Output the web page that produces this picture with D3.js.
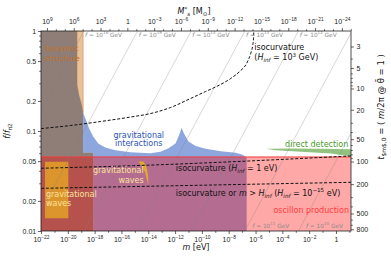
<!DOCTYPE html>
<html>
<head>
<meta charset="utf-8">
<script src="https://cdn.jsdelivr.net/npm/d3@7"></script>
<style>
body { margin: 0; background: #fff; }
svg { font-family: "DejaVu Sans", sans-serif; }
text { white-space: pre; }
</style>
</head>
<body>
<svg id="chart" width="391" height="262"></svg>
<script>
// ---- data (x = log10 of m in eV, y = f / f_pi2) ----
var mTickExp = [-22, -20, -18, -16, -14, -12, -10, -8, -6, -4, -2, 0];
var mMinorExp = [-21, -19, -17, -15, -13, -11, -9, -7, -5, -3, -1, 1];
var msTickExp = [9, 6, 3, 0, -3, -6, -9, -12, -15, -18, -21, -24];
var msMinorExp = [8, 7, 5, 4, 2, 1, -1, -2, -4, -5, -7, -8, -10, -11, -13, -14, -16, -17, -19, -20, -22, -23, -25];
var fTicks = [0.01, 0.02, 0.05, 0.1, 0.2, 0.5, 1];
var fTickLabels = ["0.01", "0.02", "0.05", "0.1", "0.2", "0.5", "1"];
var fMinor = [0.03, 0.04, 0.06, 0.07, 0.08, 0.09, 0.3, 0.4, 0.6, 0.7, 0.8, 0.9];
var tTicks = [3, 5, 10, 20, 50, 100, 200, 500, 800];
var tTickF = [0.70, 0.427, 0.266, 0.163, 0.0828, 0.0495, 0.0294, 0.01496, 0.0104];
var tMinor = [4, 6, 7, 8, 9, 30, 40, 60, 70, 80, 90, 300, 400, 600, 700];

var baryonGray = [[-22, 1], [-19.31, 1], [-19.31, 0.291], [-19.16, 0.226], [-18.97, 0.184], [-18.86, 0.153],
  [-18.86, 0.061], [-18.11, 0.061], [-18.11, 0.01], [-22, 0.01]];
var baryonTan = [[-19.31, 1], [-18.86, 1], [-18.86, 0.153], [-18.97, 0.184], [-19.16, 0.226], [-19.31, 0.291]];
var gravInteractions = [[-18.86, 0.153], [-18.63, 0.127], [-18.41, 0.106], [-18.11, 0.0879], [-17.73, 0.0748],
  [-17.21, 0.0682], [-16.46, 0.0643], [-15.34, 0.0614], [-13.84, 0.0600], [-13.09, 0.0621], [-12.49, 0.0674],
  [-11.97, 0.0748], [-11.71, 0.0899], [-11.52, 0.107], [-11.30, 0.092], [-11.00, 0.0783], [-10.47, 0.0706],
  [-9.72, 0.0666], [-8.60, 0.0629], [-7.48, 0.0607], [-6.96, 0.058], [-6.66, 0.0541], [-6.66, 0.01],
  [-18.11, 0.01], [-18.11, 0.061], [-18.86, 0.061]];
var oscillon = [[-22, 0.055], [1.3, 0.055], [1.3, 0.01], [-22, 0.01]];
var gwPulsar = [[-21.70, 0.0493], [-19.96, 0.0493], [-19.96, 0.0134], [-21.70, 0.0134]];
var gwSliver = [[-14.73, 0.0495], [-14.36, 0.0495], [-14.13, 0.0437], [-14.02, 0.0363], [-13.98, 0.0288],
  [-14.10, 0.0324], [-14.24, 0.0389], [-14.54, 0.0457]];
var directDetection = [[-5.23, 0.0666], [-3.36, 0.0669], [-1.12, 0.0666], [1.3, 0.0658], [1.3, 0.0552],
  [-0.37, 0.0594], [-2.61, 0.0621], [-4.49, 0.0643]];

var isoHigh = [[-22, 0.1057], [-19.83, 0.1133], [-17.58, 0.1243], [-15.34, 0.1378], [-13.84, 0.1494],
  [-12.34, 0.1717], [-10.85, 0.2113], [-9.72, 0.2484], [-8.98, 0.2756], [-7.85, 0.3354], [-7.10, 0.4034],
  [-6.66, 0.4743], [-6.36, 0.5973], [-6.21, 0.7186], [-6.15, 0.845], [-6.13, 1]];
var isoEv = [[-22, 0.0424], [-15.1, 0.045], [-7.7, 0.0493], [1.12, 0.0563]];
var isoLow = [[-22, 0.0267], [1.12, 0.0307]];

// lines of constant f: log10 m where each crosses f/f_pi2 = 1 and = 0.01
var fLineExp = [16, 15, 14, 13, 12, 11, 10];
var fLineTop = [-18.8, -14.8, -10.8, -6.8, -2.8, 1.2, 5.2];
var fLineBottom = [-26.8, -22.8, -18.8, -14.8, -10.8, -6.8, -2.8];

// ---- scales ----
var x = d3.scaleLog().domain([1e-22, Math.pow(10, 1.12)]).range([41, 351]);
var y = d3.scaleLog().domain([0.01, 1]).range([231, 31]);
var xs = d3.scaleLog().domain([Math.pow(10, 9.66), Math.pow(10, -25.02)]).range([41, 351]);
var yt = d3.scaleLog().domain(tTicks).range(tTickF.map(function (f) { return y(f); }));

var svg = d3.select("#chart");
svg.append("defs").append("clipPath").attr("id", "clip")
  .append("rect").attr("x", 41).attr("y", 31).attr("width", 310).attr("height", 200);

// rich text: ^{..} sup, _{..} sub, _(..) italic sub, $..$ italic
function parse(s) {
  var out = [];
  s.split(/(\^\{[^}]*\}|_\{[^}]*\}|_\([^)]*\)|\$[^$]*\$)/).forEach(function (p) {
    if (!p) return;
    if (p[0] === "^") out.push({t: p.slice(2, -1), k: "sup"});
    else if (p.slice(0, 2) === "_{") out.push({t: p.slice(2, -1), k: "sub"});
    else if (p.slice(0, 2) === "_(") out.push({t: p.slice(2, -1), k: "sub", i: true});
    else if (p[0] === "$") out.push({t: p.slice(1, -1), k: "", i: true});
    else out.push({t: p, k: ""});
  });
  return out;
}
function rich(t, s, fs) {
  var off = 0;
  parse(s).forEach(function (p) {
    var sp = t.append("tspan").text(p.t);
    var sh = p.k === "sup" ? -0.42 * fs : p.k === "sub" ? 0.25 * fs : 0;
    if (p.k) sp.attr("font-size", 0.7 * fs);
    if (p.i) sp.attr("font-style", "italic");
    if (sh !== off) { sp.attr("dy", sh - off); off = sh; }
  });
}
function label(g, xm, yf, s, fs, color, anchor) {
  var t = g.append("text").attr("x", x(Math.pow(10, xm))).attr("y", y(yf))
    .attr("font-size", fs).attr("fill", color).attr("text-anchor", anchor || "start");
  rich(t, s, fs);
  return t;
}

var path = d3.line()
  .x(function (d) { return x(Math.pow(10, d[0])); })
  .y(function (d) { return y(d[1]); });
var curve = d3.line()
  .x(function (d) { return x(Math.pow(10, d[0])); })
  .y(function (d) { return y(d[1]); })
  .curve(d3.curveMonotoneX);

var plot = svg.append("g").attr("clip-path", "url(#clip)");

// regions
plot.append("path").attr("d", path(baryonTan) + "Z").attr("fill", "#e8b886").attr("opacity", 0.85)
  .attr("stroke", "#d0803a").attr("stroke-width", 0.7);
plot.append("path").attr("d", path(baryonGray) + "Z").attr("fill", "#8f7d77");
plot.append("path").attr("d", path(gravInteractions) + "Z").attr("fill", "#3a66c4").attr("opacity", 0.58);
plot.append("path").attr("d", path(directDetection) + "Z").attr("fill", "#4a9a2a").attr("opacity", 0.6);
plot.append("path").attr("d", path(oscillon) + "Z").attr("fill", "#ff0000").attr("opacity", 0.34);
plot.append("line").attr("x1", x(1e-22)).attr("x2", 351).attr("y1", y(0.055)).attr("y2", y(0.055))
  .attr("stroke", "#f03c3c").attr("stroke-width", 1);
plot.append("path").attr("d", path(gwPulsar) + "Z").attr("fill", "#e6a626").attr("opacity", 0.8);
plot.append("path").attr("d", path(gwSliver) + "Z").attr("fill", "#e6b020").attr("opacity", 0.9);

// constant-f lines
fLineExp.forEach(function (k, i) {
  plot.append("line")
    .attr("x1", x(Math.pow(10, fLineTop[i]))).attr("y1", y(1))
    .attr("x2", x(Math.pow(10, fLineBottom[i]))).attr("y2", y(0.01))
    .attr("stroke", "#808080").attr("stroke-opacity", 0.45).attr("stroke-width", 0.7);
});

// isocurvature dashed lines
[isoHigh, isoEv, isoLow].forEach(function (d) {
  plot.append("path").attr("d", curve(d)).attr("fill", "none")
    .attr("stroke", "#111").attr("stroke-width", 1).attr("stroke-dasharray", "3,1.8");
});

// f labels
var ann = svg.append("g");
fLineExp.forEach(function (k, i) {
  if (i < 5) {
    var t = ann.append("text").attr("x", x(Math.pow(10, fLineTop[i])) + 1.2).attr("y", 36.8)
      .attr("font-size", 5.8).attr("fill", "#8a8a8a");
    rich(t, "$f$ = 10^{" + k + "} GeV", 5.8);
  } else {
    var t2 = ann.append("text").attr("x", x(Math.pow(10, fLineBottom[i])) + 7.5).attr("y", 227.5)
      .attr("font-size", 5.8).attr("fill", "#8a8a8a");
    rich(t2, "$f$ = 10^{" + k + "} GeV", 5.8);
  }
});

// annotations
label(ann, -20.41, 0.624, "baryonic", 7.7, "#c2722a", "middle");
label(ann, -20.41, 0.496, "structure", 7.7, "#c2722a", "middle");
label(ann, -14.71, 0.0857, "gravitational", 8, "#2a54b4", "middle");
label(ann, -14.71, 0.0713, "interactions", 8, "#2a54b4", "middle");
label(ann, 0.92, 0.0697, "direct detection", 8, "#4a9a2a", "end");
label(ann, 0.97, 0.01503, "oscillon production", 8, "#ff3b3b", "end");
label(ann, -21.63, 0.02173, "gravitational", 8, "#fae39a", "start");
label(ann, -21.63, 0.0179, "waves", 8, "#fae39a", "start");
label(ann, -14.34, 0.03776, "gravitational", 8, "#fae39a", "end");
label(ann, -14.34, 0.0304, "waves", 8, "#fae39a", "end");
label(ann, -6.09, 0.6457, "isocurvature", 8, "#111", "start");
label(ann, -6.09, 0.5129, "($H$_(inf) = 10^{3} GeV)", 8, "#111", "start");
label(ann, -11.95, 0.0401, "isocurvature ($H$_(inf) = 1 eV)", 8, "#111", "start");
label(ann, -11.95, 0.02258, "isocurvature or $m$ > $H$_(inf) ($H$_(inf) = 10^{\u221215} eV)", 8, "#111", "start");

// ---- axes ----
function pow10(e) { return Math.pow(10, e); }
function expLabel(e) { return e === 0 ? "1" : "10^{" + String(e).replace("-", "\u2212") + "}"; }
function styleAxis(g, labels) {
  g.select(".domain").remove();
  g.selectAll(".tick line").attr("stroke", "#222").attr("stroke-width", 0.7);
  g.selectAll(".tick text").attr("fill", "#222").attr("font-size", 7).attr("font-family", null)
    .each(function (d, i) {
      var t = d3.select(this);
      t.text(null);
      if (labels) rich(t, labels[i], 7);
    });
}

var gb = svg.append("g").attr("transform", "translate(0,231)")
  .call(d3.axisBottom(x).tickValues(mTickExp.map(pow10)).tickSize(3).tickPadding(2.6));
styleAxis(gb, mTickExp.map(expLabel));
var gbm = svg.append("g").attr("transform", "translate(0,231)")
  .call(d3.axisBottom(x).tickValues(mMinorExp.map(pow10).filter(function (v) { return v < 13; })).tickSize(1.8));
styleAxis(gbm, null);

var gtp = svg.append("g").attr("transform", "translate(0,31)")
  .call(d3.axisTop(xs).tickValues(msTickExp.map(pow10)).tickSize(3).tickPadding(4.5));
styleAxis(gtp, msTickExp.map(expLabel));
var gtm = svg.append("g").attr("transform", "translate(0,31)")
  .call(d3.axisTop(xs).tickValues(msMinorExp.map(pow10)).tickSize(1.8));
styleAxis(gtm, null);

var gl = svg.append("g").attr("transform", "translate(41,0)")
  .call(d3.axisLeft(y).tickValues(fTicks).tickSize(3).tickPadding(1.8));
styleAxis(gl, fTickLabels);
var glm = svg.append("g").attr("transform", "translate(41,0)")
  .call(d3.axisLeft(y).tickValues(fMinor).tickSize(1.8));
styleAxis(glm, null);

var gr = svg.append("g").attr("transform", "translate(351,0)")
  .call(d3.axisRight(yt).tickValues(tTicks).tickSize(3).tickPadding(2.5));
styleAxis(gr, tTicks.map(String));
var grm = svg.append("g").attr("transform", "translate(351,0)")
  .call(d3.axisRight(yt).tickValues(tMinor).tickSize(1.8));
styleAxis(grm, null);

// frame
svg.append("rect").attr("x", 41).attr("y", 31).attr("width", 310).attr("height", 200)
  .attr("fill", "none").attr("stroke", "#222").attr("stroke-width", 0.8);

// axis titles
var tb = svg.append("text").attr("x", 196).attr("y", 250).attr("text-anchor", "middle")
  .attr("font-size", 8).attr("fill", "#111");
rich(tb, "$m$ [eV]", 8);
var tt = svg.append("text").attr("x", 194).attr("y", 14).attr("text-anchor", "middle")
  .attr("font-size", 8).attr("fill", "#111");
rich(tt, "$M$^{*}_(s) [M_{\u2299}]", 8);
var tl = svg.append("text").attr("transform", "translate(9.5,131) rotate(-90)").attr("text-anchor", "middle")
  .attr("font-size", 8).attr("fill", "#111");
rich(tl, "$f$/$f$_{\u03c02}", 8);
var tr = svg.append("text").attr("transform", "translate(384,107) rotate(-90)").attr("text-anchor", "middle")
  .attr("font-size", 8.5).attr("fill", "#111");
rich(tr, "$t$_{$m$,0} = ( $m$/2\u03c0 @ \u03b8\u0304 = 1 )", 8.5);
</script>
</body>
</html>
